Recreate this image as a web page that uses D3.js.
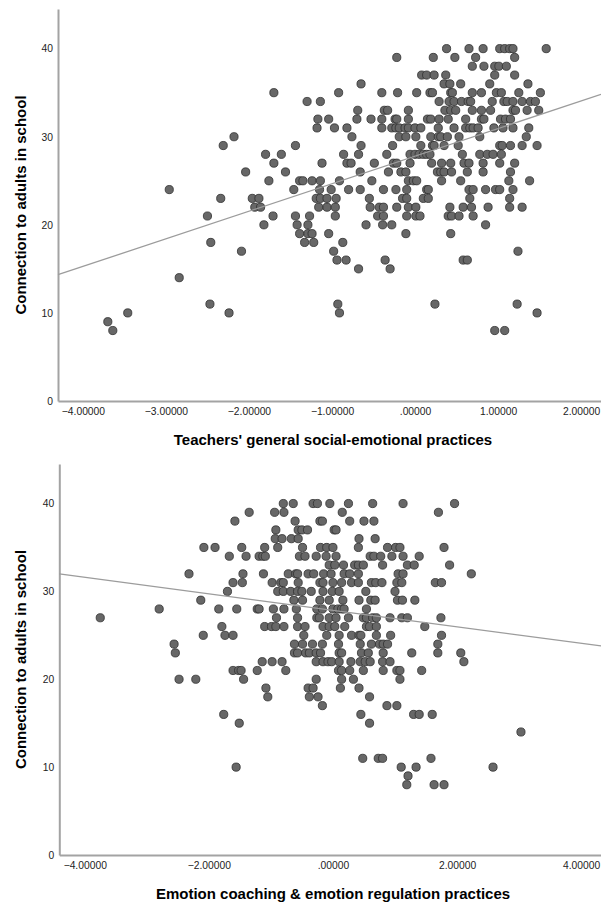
<!DOCTYPE html>
<html>
<head>
<meta charset="utf-8">
<script src="https://cdnjs.cloudflare.com/ajax/libs/d3/7.8.5/d3.min.js"></script>
<style>
  body { margin: 0; background: #fff; }
  svg { display: block; }
  .tick text { font-family: "Liberation Sans", Arial, sans-serif; font-size: 10.3px; fill: #222; }
  .title { font-family: "Liberation Sans", Arial, sans-serif; font-size: 15px; font-weight: bold; fill: #000; }
</style>
</head>
<body>
<div id="chart"></div>
<script>
// Top panel: Teachers' general social-emotional practices (x) vs connection score (y)
// each row of x values belongs to the score at the same index in topScores
const topScores = [40, 39, 38, 37, 36, 35, 34, 33, 32, 31, 30, 29, 28, 27, 26, 25, 24, 23, 22, 21, 20, 19, 18, 17, 16, 15, 14, 11, 10, 9, 8];
const topXByRow = [
  [0.38, 0.65, 0.82, 1.02, 1.08, 1.14, 1.18, 1.58],
  [-0.22, 0.22, 0.48, 0.73, 1.20],
  [0.69, 0.83, 0.96, 1.01, 1.10],
  [0.08, 0.14, 0.23, 0.37, 0.96, 1.20],
  [-0.65, 0.35, 0.42, 0.55, 0.90, 1.36],
  [-1.70, -0.92, -0.40, -0.21, 0.02, 0.18, 0.21, 0.43, 0.45, 0.69, 0.80, 0.98, 1.04, 1.25, 1.51],
  [-1.30, -1.14, 0.29, 0.41, 0.47, 0.56, 0.64, 0.67, 0.93, 1.07, 1.11, 1.18, 1.29, 1.39, 1.45],
  [-0.69, -0.37, -0.33, -0.08, 0.36, 0.43, 0.49, 0.69, 0.80, 0.91, 1.18, 1.21, 1.35, 1.49],
  [-1.17, -1.04, -0.70, -0.53, -0.40, -0.24, -0.22, -0.08, 0.15, 0.19, 0.29, 0.40, 0.61, 0.80, 0.83, 1.03, 1.09, 1.15],
  [-1.18, -0.97, -0.82, -0.40, -0.28, -0.23, -0.19, -0.12, -0.08, 0.00, 0.07, 0.28, 0.47, 0.61, 0.66, 0.70, 0.76, 0.95, 1.06, 1.18, 1.37],
  [-2.18, -0.76, -0.19, -0.11, 0.01, 0.19, 0.28, 0.31, 0.39, 0.53, 0.78, 1.34],
  [-2.31, -1.44, -0.65, -0.27, 0.07, 0.21, 0.23, 0.35, 0.52, 1.02, 1.05, 1.15, 1.29, 1.47],
  [-1.80, -1.61, -0.86, -0.68, -0.34, -0.06, 0.00, 0.05, 0.10, 0.14, 0.18, 0.57, 0.78, 0.87, 0.94, 1.04],
  [-1.70, -1.12, -0.82, -0.77, -0.49, -0.26, -0.22, -0.06, 0.20, 0.32, 0.43, 0.59, 0.65, 0.82, 1.02, 1.20],
  [-2.04, -1.56, -0.66, -0.32, -0.17, -0.11, 0.27, 0.31, 0.35, 0.44, 0.63, 0.82, 1.15],
  [-1.76, -1.39, -1.35, -1.24, -1.14, -0.91, -0.52, -0.08, -0.02, 0.02, 0.32, 0.55, 1.13, 1.38],
  [-2.96, -1.46, -1.15, -1.01, -0.80, -0.66, -0.38, -0.23, -0.10, 0.14, 0.16, 0.65, 0.70, 0.85, 0.97, 1.02, 1.18],
  [-2.34, -1.96, -1.88, -1.19, -1.14, -1.06, -0.95, -0.55, -0.15, -0.10, 0.10, 0.16, 0.66, 1.14],
  [-1.93, -1.86, -1.16, -1.06, -0.96, -0.54, -0.43, -0.38, -0.22, -0.08, 0.01, 0.42, 0.58, 0.68, 0.88, 1.14, 1.29],
  [-2.50, -1.71, -1.44, -1.27, -0.96, -0.45, -0.38, -0.10, 0.01, 0.06, 0.40, 0.44, 0.53, 0.70],
  [-1.82, -1.42, -1.29, -0.59, -0.39, -0.28, 0.85],
  [-1.39, -1.29, -1.24, -1.04, -0.11, 0.43],
  [-2.46, -1.33, -1.22, -0.87],
  [-2.09, -0.98, 1.24],
  [-0.94, -0.83, -0.36, 0.58, 0.63],
  [-0.68, -0.30],
  [-2.84],
  [-2.47, -0.93, 0.24, 1.23],
  [-3.46, -2.24, -0.91, 1.47],
  [-3.70],
  [-3.64, 0.96, 1.08]
];
const topXTicks = [-4, -3, -2, -1, 0, 1, 2];
const topFit = [27.8, 3.13]; // intercept, slope

// Bottom panel: Emotion coaching & emotion regulation practices
const botScores = [40, 39, 38, 37, 36, 35, 34, 33, 32, 31, 30, 29, 28, 27, 26, 25, 24, 23, 22, 21, 20, 19, 18, 17, 16, 15, 14, 11, 10, 9, 8];
const botXByRow = [
  [-0.80, -0.64, -0.32, -0.25, -0.05, 0.25, 0.64, 1.13, 1.96],
  [-1.35, -0.94, -0.79, 0.15, 1.70],
  [-1.58, -0.61, -0.21, -0.17, 0.27, 0.50, 0.66],
  [-0.92, -0.56, -0.50, -0.41, 0.02, 0.05],
  [-0.93, -0.82, -0.67, -0.56, 0.42, 0.68],
  [-2.08, -1.90, -1.47, -1.10, -0.89, -0.49, -0.20, -0.10, 0.00, 0.41, 0.88, 1.01, 1.08, 1.79],
  [-1.67, -1.40, -1.19, -1.13, -1.09, -0.54, -0.45, -0.27, -0.11, 0.05, 0.60, 0.66, 0.77, 0.95, 1.13, 1.39],
  [-0.06, 0.03, 0.17, 0.35, 0.41, 0.49, 0.80, 1.20, 1.31, 1.88],
  [-2.32, -1.45, -1.12, -0.72, -0.60, -0.57, -0.40, -0.31, -0.15, -0.03, 0.18, 0.27, 0.41, 1.05, 1.13, 2.23],
  [-1.61, -1.46, -0.98, -0.84, -0.80, -0.56, -0.21, -0.16, 0.00, 0.14, 0.30, 0.41, 0.62, 0.69, 0.79, 1.03, 1.11, 1.65, 1.75],
  [-1.70, -0.89, -0.80, -0.68, -0.57, -0.50, -0.35, -0.16, -0.01, 0.10, 0.53, 1.00],
  [-2.13, -0.63, -0.49, -0.21, -0.06, 0.16, 0.42, 0.61, 0.68, 1.04, 1.12, 1.32],
  [-2.80, -1.84, -1.55, -1.22, -1.19, -0.96, -0.79, -0.59, -0.26, -0.17, 0.00, 0.08, 0.14, 0.18, 0.54],
  [-3.75, -0.91, -0.57, -0.26, -0.22, -0.06, 0.05, 0.25, 0.49, 0.54, 0.64, 0.70, 0.92, 1.11, 1.20, 1.74],
  [-1.79, -1.10, -0.99, -0.92, -0.79, -0.57, -0.45, -0.16, -0.06, 0.03, 0.19, 0.54, 0.59, 0.70, 1.48],
  [-2.09, -1.74, -1.61, -0.47, -0.10, 0.10, 0.30, 0.42, 0.45, 0.70, 0.93, 1.75],
  [-2.56, -0.62, -0.49, -0.33, -0.17, 0.09, 0.44, 0.62, 0.75, 0.81, 0.88, 1.69],
  [-2.54, -0.62, -0.57, -0.44, -0.38, -0.27, -0.20, 0.10, 0.14, 0.46, 0.57, 0.81, 1.27, 1.69, 2.06],
  [-1.14, -0.98, -0.82, -0.27, -0.16, -0.08, -0.02, 0.10, 0.29, 0.44, 0.52, 0.60, 0.80, 0.92, 2.11],
  [-1.61, -1.52, -1.48, -1.22, -0.76, 0.09, 0.14, 0.27, 0.49, 0.81, 1.03, 1.08, 1.43],
  [-2.48, -2.21, -1.44, -0.27, 0.14, 0.33, 1.08],
  [-1.08, -0.40, -0.32, 0.12, 0.42],
  [-1.05, -0.38, -0.24, 0.59],
  [-0.17, 0.87, 1.03],
  [-1.76, 0.45, 1.30, 1.39, 1.60],
  [-1.51, 0.59],
  [3.03],
  [0.48, 0.73, 0.80, 1.58],
  [-1.56, 1.10, 1.34, 2.58],
  [1.21],
  [1.19, 1.63, 1.79]
];
const botXTicks = [-4, -2, 0, 2, 4];
const botFit = [27.85, -0.94];

const yTicks = [0, 10, 20, 30, 40];
const yTitle = "Connection to adults in school";

var width = 601, height = 906;

var svg = d3.select("#chart").append("svg")
    .attr("width", width)
    .attr("height", height);

svg.append("rect").attr("width", width).attr("height", height).attr("fill", "#fff");

// SPSS style: ".00000" for zero, otherwise 5 decimals
function spssFormat(d) {
    var s = d3.format(".5f")(d);
    if (s.indexOf("0.") == 0) s = s.slice(1);
    return s;
}

function flatten(scores, rows) {
    var pts = [];
    for (var i = 0; i < rows.length; i++) {
        for (var j = 0; j < rows[i].length; j++) {
            pts.push({x: rows[i][j], y: scores[i]});
        }
    }
    return pts;
}

function drawPanel(opts) {
    var x = d3.scaleLinear().domain(opts.xDomain).range([opts.left, width]);
    var y = d3.scaleLinear().domain([0, 44.5]).range([opts.bottom, opts.top]);

    var g = svg.append("g");

    var xAxis = g.append("g")
        .attr("transform", "translate(0," + opts.bottom + ")")
        .call(d3.axisBottom(x).tickValues(opts.xTicks).tickSize(0).tickSizeOuter(0).tickPadding(7).tickFormat(spssFormat));

    var yAxis = g.append("g")
        .attr("transform", "translate(" + opts.left + ",0)")
        .call(d3.axisLeft(y).tickValues(yTicks).tickSize(0).tickSizeOuter(0).tickPadding(5));

    g.selectAll(".domain")
        .attr("stroke", "#a3a3a3")
        .attr("stroke-width", 2);

    var pts = flatten(opts.scores, opts.rows);

    g.append("g").selectAll("circle")
        .data(pts)
        .enter().append("circle")
            .attr("cx", function(d) { return x(d.x); })
            .attr("cy", function(d) { return y(d.y); })
            .attr("r", 4.1)
            .attr("fill", "#676767")
            .attr("stroke", "#2e2e2e")
            .attr("stroke-width", 0.8);

    // fit line across the whole x range
    var fitLine = d3.line()
        .x(function(d) { return x(d); })
        .y(function(d) { return y(opts.fit[0] + opts.fit[1] * d); });

    g.append("path")
        .datum(opts.xDomain)
        .attr("d", fitLine)
        .attr("fill", "none")
        .attr("stroke", "#9c9c9c")
        .attr("stroke-width", 1.3);

    g.append("text")
        .attr("class", "title")
        .attr("text-anchor", "middle")
        .attr("x", 333)
        .attr("y", opts.xTitleY)
        .text(opts.xTitle);

    g.append("text")
        .attr("class", "title")
        .attr("text-anchor", "middle")
        .attr("transform", "translate(26," + (opts.top + opts.bottom) / 2 + ") rotate(-90)")
        .text(yTitle);
}

drawPanel({
    xDomain: [-4.30, 2.24], left: 58, top: 9, bottom: 401,
    scores: topScores, rows: topXByRow, xTicks: topXTicks, fit: topFit,
    xTitle: "Teachers' general social-emotional practices", xTitleY: 445
});

drawPanel({
    xDomain: [-4.41, 4.32], left: 59.3, top: 464, bottom: 855,
    scores: botScores, rows: botXByRow, xTicks: botXTicks, fit: botFit,
    xTitle: "Emotion coaching & emotion regulation practices", xTitleY: 899
});
</script>
</body>
</html>
